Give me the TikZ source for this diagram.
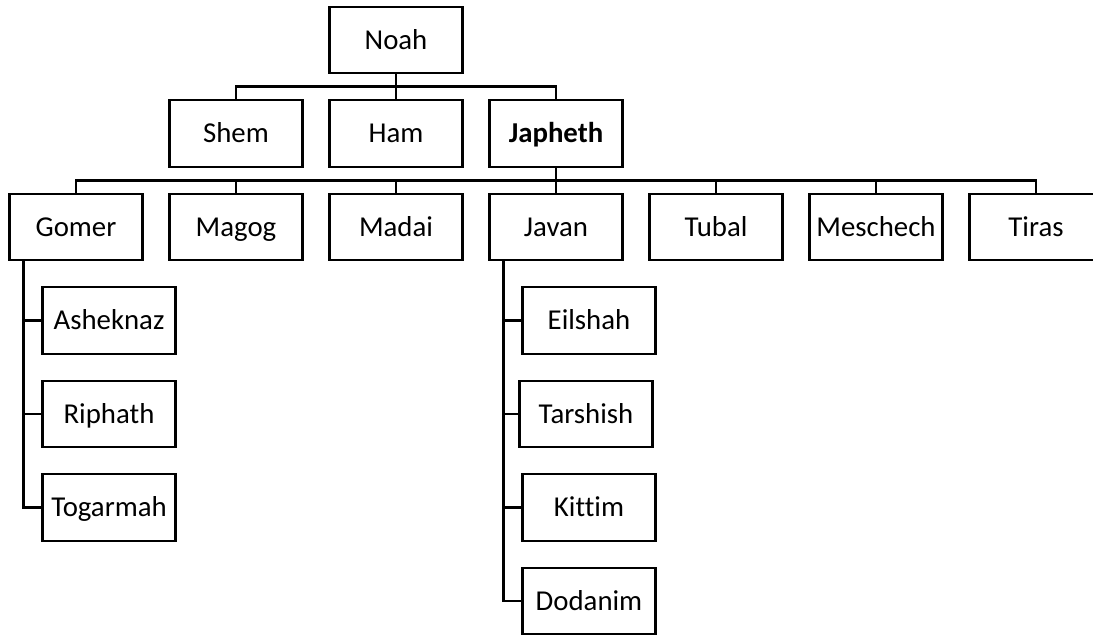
\documentclass[tikz,border=0pt]{standalone}
\usepackage{fontspec}
\setmainfont{Carlito}[Ligatures=NoCommon]
\usetikzlibrary{positioning}
\usetikzlibrary{calc}
\tikzset{%
  box/.style = {rectangle,draw,line width=1.1pt,minimum width=66.5pt,
        minimum height=33.25pt,inner sep=1pt,outer sep=0pt,
        text height=9.3pt,text depth=0pt,
        font=\fontsize{14.4}{17}\selectfont},
  link/.style = {line width=1.4pt}
}

\begin{document}
\begin{tikzpicture}[x=0.5pt,y=0.5pt,node distance=13.5pt and 13.5pt]
        \useasboundingbox (0,0) rectangle (1093,-639);
        \node[box] (noah) at (396,-40) {Noah};
        \node[box] (ham) [below=of noah] {Ham};
        \node[box] (shem) [left=of ham] {Shem};
        \node[box] (japheth) [right=of ham] {\textbf{Japheth}};
        \node[box] (madai) [below=of ham] {Madai};
        \node[box] (magog) [left=of madai] {Magog};
        \node[box] (gomer) [left=of magog] {Gomer};
        \node[box] (javan) [right=of madai] {Javan};
        \node[box] (tubal) [right=of javan] {Tubal};
        \node[box] (meschech) [right=of tubal] {Meschech};
        \node[box] (tiras) [right=of meschech] {Tiras};
        \node[box] (asheknaz) [below right=13.5pt and 16.5pt of gomer.south west] {Asheknaz};
        \node[box] (riphath) [below=of asheknaz] {Riphath};
        \node[box] (togarmah) [below=of riphath] {Togarmah};
        \node[box] (eilshah) [below right=13.5pt and 16.5pt of javan.south west] {Eilshah};
        \node[box] (tarshish) [below=of eilshah,xshift=-1.5pt] {Tarshish};
        \node[box] (kittim) [below=of eilshah,yshift=-46.75pt] {Kittim};
        \node[box] (dodanim) [below=of kittim] {Dodanim};

        \coordinate (gomer-trunk) at ($(gomer.south west)+(14,0)$);
        \coordinate (javan-trunk) at ($(javan.south west)+(14,0)$);

        \foreach \c in {shem,ham,japheth}
          \draw[link] (noah.south) -- ++(0,-13.5) -| (\c.north);
        \foreach \c in {gomer,magog,madai,javan,tubal,meschech,tiras}
          \draw[link] (japheth.south) -- ++(0,-13.5) -| (\c.north);
        \foreach \c in {asheknaz,riphath,togarmah}
          \draw[link] (gomer-trunk) |- (\c.west);
        \foreach \c in {eilshah,tarshish,kittim,dodanim}
          \draw[link] (javan-trunk) |- (\c.west);

    \end{tikzpicture}
\end{document}
